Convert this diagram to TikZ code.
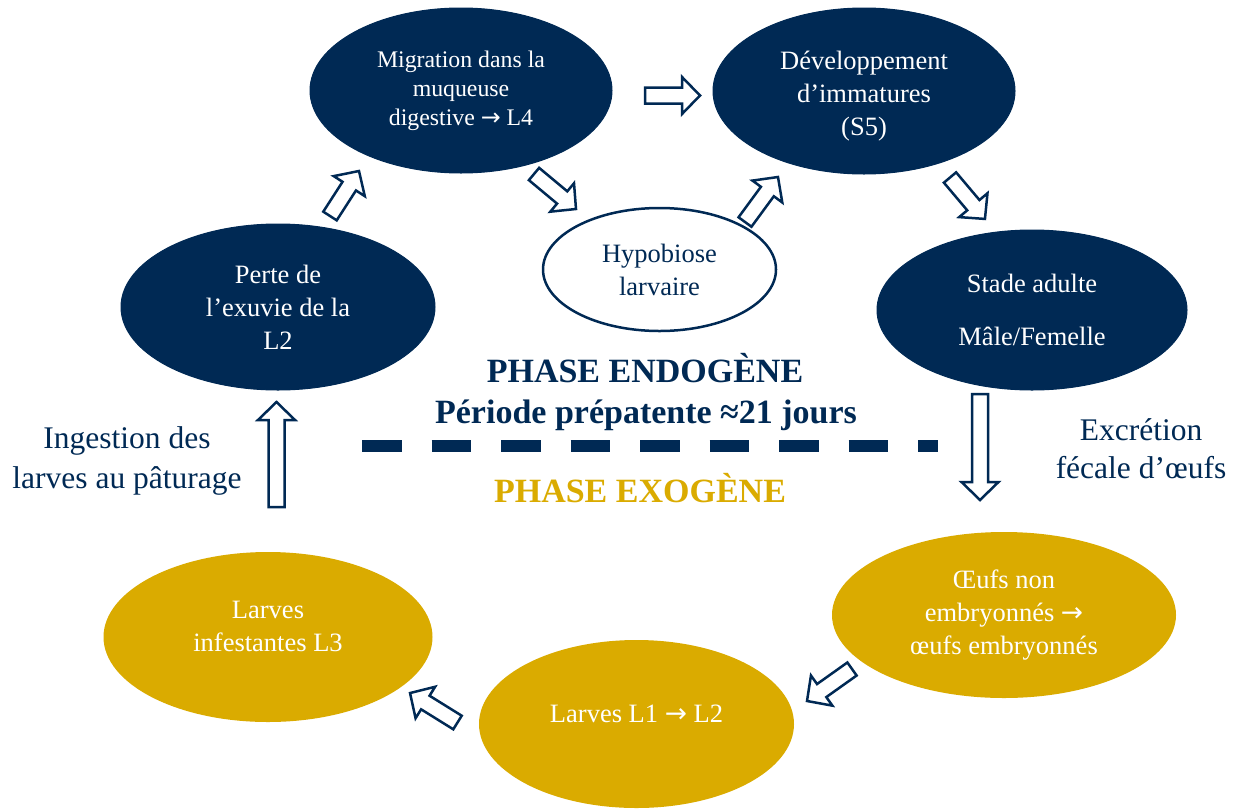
\documentclass[tikz,border=0pt]{standalone}
\usepackage{fontspec}
\setmainfont{Liberation Serif}
\newfontfamily\arrowfont{DejaVu Sans}
\newcommand\ra{{\arrowfont →}}
\usetikzlibrary{shapes.geometric,calc}
\definecolor{navy}{RGB}{0,41,84}
\definecolor{gold}{RGB}{218,171,0}
\tikzset{
  stage/.style={ellipse, inner sep=0pt, align=center, text=white, font=\fontsize{26.5}{33}\selectfont},
  endo/.style={stage, fill=navy, draw=navy, line width=1pt},
  exo/.style={stage, fill=gold},
  stagetext/.style={align=center, text=white, font=\fontsize{26.5}{33}\selectfont},
  barrow/.style={draw=navy, fill=white, line width=2.5pt, line join=miter},
  phase/.style={anchor=base, font=\bfseries\fontsize{34}{40}\selectfont},
  side/.style={anchor=base, text=navy, font=\fontsize{31.5}{40}\selectfont},
  sep/.style={draw=navy, line width=12pt, dash pattern=on 39.7pt off 29.8pt}
}
\newcommand\blockarr[2]{%
  \path let \p1=($(#2)-(#1)$) in \pgfextra{%
    \pgfmathsetmacro\bang{atan2(\y1,\x1)}%
    \pgfmathsetmacro\blen{veclen(\x1,\y1)}%
    \xdef\bang{\bang}\xdef\blen{\blen}};
  \draw[barrow, shift={(#1)}, rotate=\bang]
    (0pt,-8pt) -- ({\blen pt-18pt},-8pt) -- ({\blen pt-18pt},-18.5pt)
    -- (\blen pt,0pt) -- ({\blen pt-18pt},18.5pt) -- ({\blen pt-18pt},8pt)
    -- (0pt,8pt) -- cycle;}
\begin{document}
\begin{tikzpicture}[x=1pt,y=-1pt]
\useasboundingbox (0,0) rectangle (1236,809);

% endogenous stages
\node[endo, minimum width=302, minimum height=165, font=\fontsize{23.8}{29}\selectfont] (mig) at (461,90.5)
  {Migration dans la\\muqueuse\\digestive \ra{} L4};
\node[endo, minimum width=302, minimum height=166] (dev) at (864,91) {};
\node[stagetext] (devt) at (864,96) {Développement\\d’immatures\\(S5)};
\node[ellipse, draw=navy, fill=white, line width=2.5pt, minimum width=233, minimum height=123,
  inner sep=0pt, align=center, text=navy, font=\fontsize{26.5}{33}\selectfont] (hyp) at (659.5,269.5)
  {Hypobiose\\larvaire};
\node[endo, minimum width=314, minimum height=166] (perte) at (278,307)
  {Perte de\\l’exuvie de la\\L2};
\node[endo, minimum width=310, minimum height=160] (adult) at (1032,310)
  {Stade adulte\\[20pt]Mâle/Femelle};

% exogenous stages
\node[exo, minimum width=344, minimum height=166] (oeufs) at (1004,615)
  {Œufs non\\embryonnés \ra\\œufs embryonnés};
\node[exo, minimum width=315, minimum height=168] (l12) at (636.5,724) {};
\node[stagetext] (l12t) at (636.5,714) {Larves L1 \ra{} L2};
\node[exo, minimum width=329, minimum height=170] (l3) at (268,637) {};
\node[stagetext] (l3t) at (268,626) {Larves\\infestantes L3};

% phase labels
\node[phase, text=navy] (endoT) at (645,382) {PHASE ENDOGÈNE};
\node[phase, text=navy] (prep) at (646,423) {Période prépatente ≈21 jours};
\node[phase, text=gold] (exoT) at (640,502) {PHASE EXOGÈNE};
\coordinate (dl) at (362,446);
\coordinate (dr) at (938,446);
\draw[sep] (dl) -- (dr);

% side labels
\node[side] (ing1) at (127,448) {Ingestion des};
\node[side] (ing2) at (127,488) {larves au pâturage};
\node[side] (exc1) at (1141,440) {Excrétion};
\node[side] (exc2) at (1141,478) {fécale d’œufs};

% block arrows
\coordinate (a1s) at (645,95.5);   \coordinate (a1e) at (700,95.5);
\coordinate (a2s) at (534,174);    \coordinate (a2e) at (576,209);
\coordinate (a3s) at (745,222);    \coordinate (a3e) at (778,177);
\coordinate (a4s) at (330,216);    \coordinate (a4e) at (359,171);
\coordinate (a5s) at (950,177.5);  \coordinate (a5e) at (985,219);
\coordinate (a6s) at (980,394);    \coordinate (a6e) at (980,500);
\coordinate (a7s) at (852,669);    \coordinate (a7e) at (807,701);
\coordinate (a8s) at (457.5,722.5);\coordinate (a8e) at (410,693);
\coordinate (a9s) at (276.5,507);  \coordinate (a9e) at (276.5,402);
\blockarr{a1s}{a1e}
\blockarr{a2s}{a2e}
\blockarr{a3s}{a3e}
\blockarr{a4s}{a4e}
\blockarr{a5s}{a5e}
\blockarr{a6s}{a6e}
\blockarr{a7s}{a7e}
\blockarr{a8s}{a8e}
\blockarr{a9s}{a9e}
\end{tikzpicture}
\end{document}
